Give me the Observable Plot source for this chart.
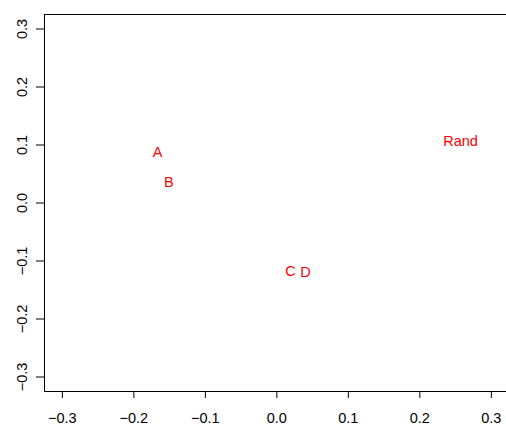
<!DOCTYPE html>
<html>
<head>
<meta charset="utf-8">
<script src="https://cdn.jsdelivr.net/npm/d3@7"></script>
<script src="https://cdn.jsdelivr.net/npm/@observablehq/plot@0.6"></script>
<style>
  html, body { margin: 0; padding: 0; background: #fff; }
  #chart svg { display: block; }
</style>
</head>
<body>
<div id="chart"></div>
<script>
const labels = ["A", "B", "C", "D", "Rand"];
const xValues = [-0.167, -0.151, 0.019, 0.040, 0.257];
const yValues = [0.087, 0.036, -0.117, -0.120, 0.107];
const ticks = [-0.3, -0.2, -0.1, 0.0, 0.1, 0.2, 0.3];
const xDomain = [-0.325, 0.3212];
const yDomain = [-0.325, 0.325];

const points = labels.map((l, i) => ({label: l, x: xValues[i], y: yValues[i]}));
const fmt = d3.format(".1f");

const chart = Plot.plot({
  width: 506,
  height: 425,
  marginLeft: 44,
  marginRight: 0,
  marginTop: 14,
  marginBottom: 34,
  style: {fontFamily: "'Liberation Sans', Arial, sans-serif", fontSize: "14.5px", background: "#fff"},
  x: {domain: xDomain},
  y: {domain: yDomain},
  marks: [
    Plot.ruleY([yDomain[0], yDomain[1]], {stroke: "black", strokeWidth: 1}),
    Plot.ruleX([xDomain[0]], {stroke: "black", strokeWidth: 1}),
    Plot.axisX({ticks, tickFormat: fmt, tickSize: 7, tickPadding: 14, label: null, fontSize: 14.5, stroke: "black"}),
    Plot.axisY({ticks, tickFormat: fmt, tickSize: 8, tickPadding: 10, tickRotate: -90, label: null, fontSize: 14.5, stroke: "black"}),
    Plot.text(points, {x: "x", y: "y", text: "label", fill: "#ff0000", fontSize: 14.5})
  ]
});
document.getElementById("chart").appendChild(chart);
</script>
</body>
</html>
